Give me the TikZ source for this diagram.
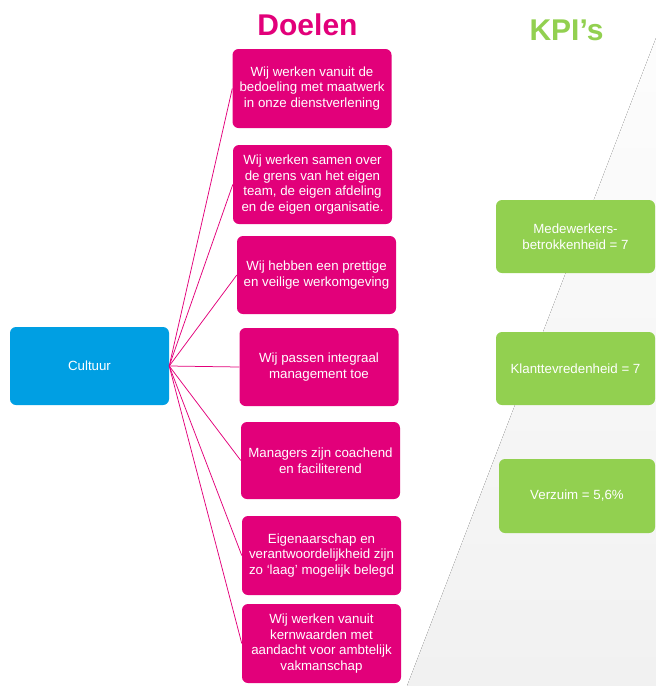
\documentclass[tikz,border=0pt]{standalone}
\usepackage{fontspec}
\setmainfont{Liberation Sans}
\definecolor{doelpink}{HTML}{E2007A}
\definecolor{cultblue}{HTML}{009FE3}
\definecolor{kpigreen}{HTML}{92D050}
\begin{document}
\begin{tikzpicture}[x=1pt,y=-1pt,
  box/.style={rounded corners=6pt, inner sep=0pt, text=white, align=center,
    font=\fontsize{13.3}{15.5}\selectfont},
  doel/.style={box, fill=doelpink, minimum width=159pt, minimum height=79pt},
  kpi/.style={box, fill=kpigreen, minimum width=159pt, minimum height=73pt},
  cult/.style={box, fill=cultblue, minimum width=159pt, minimum height=78pt},
  link/.style={draw=doelpink, line width=0.75pt},
  heading/.style={font=\fontsize{30}{32}\selectfont\bfseries, anchor=base, inner sep=0pt}
]
\useasboundingbox (0,0) rectangle (656,686);
\fill[top color=white!99!black, bottom color=white!94.5!black] (656,38) -- (407,686) -- (656,686) -- cycle;

\node[heading, text=doelpink] (tdoel) at (307.5,35) {Doelen};
\node[heading, text=kpigreen] (tkpi) at (566.5,40) {KPI’s};

\node[cult] (cu) at (89.5,366) {Cultuur};

\node[doel] (d1) at (312,88.5) {Wij werken vanuit de\\bedoeling met maatwerk\\in onze dienstverlening};
\node[doel] (d2) at (312.5,184.5) {Wij werken samen over\\de grens van het eigen\\team, de eigen afdeling\\en de eigen organisatie.};
\node[doel, minimum height=78pt] (d3) at (316.5,275) {Wij hebben een prettige\\en veilige werkomgeving};
\node[doel, minimum height=78pt] (d4) at (319,367) {Wij passen integraal\\management toe};
\node[doel, minimum height=77pt] (d5) at (320.5,460.5) {Managers zijn coachend\\en faciliterend};
\node[doel] (d6) at (321.5,555.5) {Eigenaarschap en\\verantwoordelijkheid zijn\\zo ‘laag’ mogelijk belegd};
\node[doel] (d7) at (321.5,643.5) {Wij werken vanuit\\kernwaarden met\\aandacht voor ambtelijk\\vakmanschap};

\node[kpi] (k1) at (575.5,236.5) {Medewerkers-\\betrokkenheid = 7};
\node[kpi] (k2) at (575.5,368.5) {Klanttevredenheid = 7};
\node[kpi, minimum width=156pt, minimum height=74pt] (k3) at (577,496) {Verzuim = 5,6\%};

\foreach \d in {d1,d2,d3,d4,d5,d6,d7}
  \draw[link] (cu.east) -- (\d.west);
\end{tikzpicture}
\end{document}
